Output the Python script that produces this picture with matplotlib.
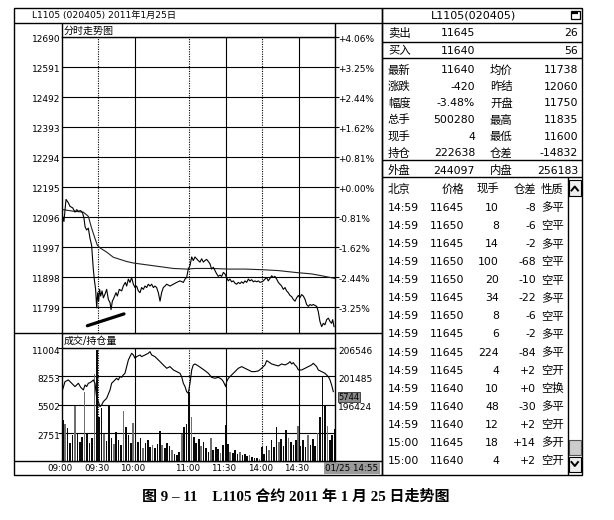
import numpy as np
import matplotlib
matplotlib.use('Agg')
import matplotlib.pyplot as plt
from matplotlib.patches import Rectangle
from matplotlib.transforms import offset_copy

plt.rcParams['font.family'] = ['DejaVu Sans', 'Noto Sans CJK SC']

# ---------------- 数据 ----------------
# 分时价格（横轴为交易分钟，0 = 09:00，225 = 15:00）
price_min = [0.5, 1.6, 3.3, 5.2, 6.6, 8.8, 10.7, 12.1, 13.5, 15.4,
             17.0, 18.1, 19.0, 20.3, 21.7, 23.1, 24.4, 25.8, 26.6, 27.7,
             28.6, 29.4, 30.2, 31.0, 31.9, 33.0, 34.1, 35.4, 36.8, 38.2,
             39.6, 40.4, 41.5, 42.8, 44.5, 45.6, 47.2, 49.2, 50.5, 52.2,
             53.3, 54.7, 56.0, 57.4, 58.8, 60.2, 61.5, 62.9, 64.3, 65.6,
             67.0, 68.4, 69.8, 71.1, 72.5, 73.9, 75.3, 76.6, 78.0, 79.4,
             80.8, 82.1, 83.5, 84.9, 86.3, 89.0, 91.8, 94.5, 97.2, 100.0,
             101.4, 102.7, 104.1, 105.5, 106.9, 108.2, 109.6, 111.0, 112.3, 113.7,
             115.1, 116.5, 117.8, 119.2, 120.6, 122.0, 123.3, 124.7, 126.1, 127.5,
             128.8, 130.2, 131.6, 133.0, 134.3, 135.7, 137.1, 138.4, 139.8, 141.2,
             142.6, 143.9, 145.3, 146.7, 148.1, 149.4, 150.8, 152.2, 153.6, 154.9,
             156.3, 157.7, 159.0, 160.4, 161.8, 163.2, 164.5, 165.9, 167.3, 168.7,
             170.0, 171.4, 172.8, 174.2, 175.5, 176.9, 178.3, 179.6, 181.0, 182.4,
             183.8, 185.1, 186.5, 187.9, 189.3, 190.6, 192.0, 193.4, 194.8, 196.1,
             197.5, 198.9, 200.3, 201.6, 203.0, 204.4, 205.7, 207.1, 208.5, 209.9,
             211.2, 212.6, 214.0, 215.4, 216.7, 218.1, 219.5, 220.9, 222.2, 223.1,
             224.2]
price_val = [12097, 12080, 12153, 12142, 12130, 12125, 12111, 12119, 12114, 12116,
             12108, 12091, 12063, 12052, 12058, 12024, 12002, 11923, 11890, 11856,
             11795, 11845, 11817, 11856, 11834, 11851, 11828, 11840, 11856, 11823,
             11812, 11789, 11817, 11828, 11845, 11834, 11856, 11851, 11867, 11879,
             11867, 11890, 11879, 11895, 11873, 11862, 11867, 11851, 11845, 11862,
             11856, 11867, 11862, 11873, 11867, 11873, 11862, 11867, 11862, 11845,
             11817, 11845, 11862, 11867, 11873, 11867, 11873, 11879, 11884, 11879,
             11890, 11895, 11923, 11935, 11963, 11951, 11963, 11957, 11951, 11946,
             11957, 11946, 11951, 11955, 11948, 11940, 11923, 11929, 11918, 11907,
             11899, 11903, 11899, 11912, 11907, 11895, 11884, 11890, 11881, 11884,
             11876, 11873, 11879, 11875, 11881, 11876, 11884, 11879, 11890, 11884,
             11888, 11881, 11884, 11881, 11884, 11879, 11881, 11884, 11890, 11895,
             11884, 11892, 11901, 11895, 11899, 11890, 11879, 11873, 11867, 11856,
             11862, 11851, 11845, 11836, 11832, 11823, 11817, 11828, 11836, 11828,
             11839, 11834, 11823, 11806, 11800, 11806, 11803, 11806, 11803, 11800,
             11783, 11750, 11733, 11744, 11739, 11756, 11761, 11750, 11744, 11756,
             11733]

# 均价线
avg_min = [1.1, 9.3, 17.6, 21.7, 24.4, 27.2, 29.1, 31.3, 36.8, 42.3, 47.8, 53.3, 58.8, 69.8,
           80.8, 91.8, 102.7, 109.6, 123.3, 137.1, 150.8, 164.5, 178.3, 192.0, 205.7, 214.0, 225.0]
avg_val = [12119, 12114, 12111, 12097, 12058, 12024, 12002, 11993, 11979, 11962, 11955, 11948, 11943, 11937,
           11931, 11925, 11923, 11925, 11925, 11923, 11923, 11921, 11918, 11912, 11907, 11901, 11892]

# 手画的支撑线
mark_min = [20.9, 51.1]
mark_val = [11736, 11775]

# 持仓量
oi_min = [0, 2.5, 5.2, 8.0, 10.7, 12.1, 13.5, 15.4, 17.6, 19.0,
          20.3, 21.7, 23.1, 24.4, 25.8, 27.2, 28.6, 29.9, 31.3, 32.7,
          34.1, 36.8, 39.6, 40.9, 42.3, 45.0, 46.4, 47.8, 49.2, 50.5,
          51.9, 53.3, 54.7, 56.0, 57.4, 58.8, 60.2, 61.5, 64.3, 65.6,
          68.4, 71.1, 72.5, 73.9, 76.6, 79.4, 80.8, 83.5, 86.3, 89.0,
          91.8, 94.5, 97.2, 98.6, 100.0, 101.4, 102.7, 104.1, 105.5, 106.9,
          108.2, 109.6, 112.3, 115.1, 117.8, 120.6, 123.3, 126.1, 128.8, 131.6,
          133.0, 134.9, 135.7, 137.1, 139.8, 142.6, 145.3, 148.1, 150.8, 153.6,
          156.3, 159.0, 161.8, 164.5, 167.3, 168.7, 170.0, 172.8, 175.5, 178.3,
          181.0, 183.8, 186.5, 187.9, 189.3, 190.6, 192.0, 193.4, 194.8, 197.5,
          200.3, 203.0, 205.7, 207.1, 208.5, 209.9, 211.2, 214.0, 216.7, 219.5,
          220.9, 222.2, 223.6]
oi_val = [198746, 200546, 200846, 200246, 199646, 199946, 200246, 199526, 199046, 199946,
          199646, 200246, 200366, 200546, 200846, 200246, 197546, 196946, 196046, 196346,
          196946, 197546, 199046, 200246, 200546, 201146, 200846, 201446, 201326, 201746,
          202046, 203246, 204446, 205046, 205646, 205346, 204746, 205046, 205346, 205046,
          205346, 205646, 205946, 205346, 205046, 204446, 204146, 203546, 202946, 203246,
          202646, 202346, 202046, 201446, 200246, 199646, 198746, 198446, 200246, 202646,
          203546, 203726, 203366, 202946, 202526, 202046, 201326, 201146, 201326, 200966,
          200546, 199646, 200546, 201146, 201746, 202346, 202946, 203246, 202946, 202646,
          202346, 202346, 202466, 202946, 203546, 204326, 204146, 203726, 203546, 203366,
          203726, 203546, 203846, 204146, 203726, 203966, 203546, 203246, 202646, 202646,
          202946, 203246, 203546, 203846, 203546, 203246, 202646, 202346, 202046, 201446,
          200846, 199946, 198746]

# 成交量（每两分钟一根）
vol_val = [4000, 3600, 3200, 1700, 2500, 5400, 2700, 1800, 2300, 6700,
           2600, 1700, 2200, 8500, 10800, 4300, 5200, 2600, 1900, 5400,
           2200, 1600, 2800, 2000, 1500, 4900, 3300, 2500, 1700, 3700,
           3100, 1800, 2200, 1200, 1700, 2000, 1300, 1500, 1200, 1600,
           2900, 1500, 1200, 1700, 1400, 1000, 700, 600, 900, 2600,
           3300, 3600, 6700, 4300, 2300, 1700, 2100, 1400, 1800, 1200,
           900, 2200, 1000, 1300, 1100, 800, 1500, 3450, 1600, 900,
           800, 1000, 700, 900, 600, 700, 500, 600, 400, 300,
           300, 200, 1300, 700, 1400, 1000, 2000, 1300, 3300, 1800,
           2100, 1400, 3000, 2200, 1800, 1500, 2000, 3400, 1400, 2000,
           1300, 2500, 1500, 2100, 1400, 2700, 4300, 8200, 5400, 3400,
           2000, 2500, 3100]
vol_min = list(range(0, 2 * len(vol_val), 2))

price_ticks = [11799, 11898, 11997, 12096, 12195, 12294, 12393, 12492, 12591, 12690]
pct_labels = ['-3.25%', '-2.44%', '-1.62%', '-0.81%', '+0.00%',
              '+0.81%', '+1.62%', '+2.44%', '+3.25%', '+4.06%']
vol_ticks = [2751, 5502, 8253, 11004]
oi_ticks = [196424, 201485, 206546]
time_ticks = [0, 30, 60, 105, 135, 165, 195]
time_labels = ['09:00', '09:30', '10:00', '11:00', '11:30', '14:00', '14:30']
solid_min = [60, 135, 195]
dotted_min = [30, 105, 165]

# 右侧报价
ask = ('卖出', '11645', '26')
bid = ('买入', '11640', '56')
quote_rows = [('最新', '11640', '均价', '11738'),
              ('涨跌', '-420', '昨结', '12060'),
              ('幅度', '-3.48%', '开盘', '11750'),
              ('总手', '500280', '最高', '11835'),
              ('现手', '4', '最低', '11600'),
              ('持仓', '222638', '仓差', '-14832')]
outer = ('外盘', '244097', '内盘', '256183')
trade_time = ['14:59'] * 13 + ['15:00'] * 2
trade_price = ['11645', '11650', '11645', '11650', '11650', '11645', '11650', '11645',
               '11645', '11645', '11640', '11640', '11640', '11645', '11640']
trade_qty = ['10', '8', '14', '100', '20', '34', '8', '6', '224', '4', '10', '48', '12', '18', '4']
trade_oi = ['-8', '-6', '-2', '-68', '-10', '-22', '-6', '-2', '-84', '+2', '+0', '-30', '+2', '+14', '+2']
trade_type = ['多平', '空平', '多平', '空平', '空平', '多平', '空平', '多平', '多平',
              '空开', '空换', '多平', '空开', '多开', '空开']

# ---------------- 画布 ----------------
W, H = 614, 520
fig = plt.figure(figsize=(W / 100, H / 100), dpi=100)


def box(x0, y0, x1, y1):
    # 像素 -> figure 坐标
    return [x0 / W, 1 - y1 / H, (x1 - x0) / W, (y1 - y0) / H]


bg = fig.add_axes([0, 0, 1, 1])
bg.set_xlim(0, W)
bg.set_ylim(H, 0)
bg.axis('off')


def seg(xs, ys, lw=1.0, color='k'):
    bg.plot(xs, ys, color=color, lw=lw, solid_capstyle='butt')


# 左侧窗口边框
bg.add_patch(Rectangle((14, 8), 368, 467, fill=False, ec='k', lw=1.0))
seg([14, 582], [23, 23])
seg([62, 62], [23, 37]); seg([335, 335], [23, 37])
seg([14, 382], [333.3, 333.3])
seg([62, 62], [333, 348.3]); seg([335, 335], [333, 348.3])
seg([14, 382], [460.7, 460.7])

bg.text(32, 15.5, 'L1105 (020405) 2011年1月25日', fontsize=6.6, va='center', ha='left')
bg.text(64, 30.5, '分时走势图', fontsize=7.2, va='center', ha='left')
bg.text(64, 341, '成交/持仓量', fontsize=7.2, va='center', ha='left')

# 价格分时图
ax_p = fig.add_axes(box(62, 36.7, 335, 333.3))
ax_p.set_xlim(0, 225)
ax_p.set_ylim(11711, 12690)
ax_p.set_yticks(price_ticks)
ax_p.set_xticks([])
ax_p.grid(axis='y', color='k', lw=0.8)
ax_p.tick_params(axis='y', left=False, right=True, length=3, width=0.8, labelleft=False)
for m in solid_min:
    ax_p.axvline(m, color='k', lw=0.8)
for m in dotted_min:
    ax_p.axvline(m, color='k', lw=0.8, ls=(0, (1, 1.2)))
ax_p.plot(avg_min, avg_val, color='#222222', lw=0.8)
ax_p.plot(price_min, price_val, color='k', lw=0.8)
ax_p.plot(mark_min, mark_val, color='k', lw=2.3, solid_capstyle='round')
for s in ax_p.spines.values():
    s.set_linewidth(1.0)

tl = offset_copy(ax_p.get_yaxis_transform(), fig=fig, x=-1.5, y=-2.5, units='dots')
tr = offset_copy(ax_p.get_yaxis_transform(), fig=fig, x=3.5, y=-2.5, units='dots')
for t, s in zip(price_ticks, pct_labels):
    ax_p.text(0, t, str(t), transform=tl, ha='right', va='center', fontsize=6.5, clip_on=False)
    ax_p.text(1, t, s, transform=tr, ha='left', va='center', fontsize=6.5, clip_on=False)

# 成交量 / 持仓量
ax_v = fig.add_axes(box(62, 348.3, 335, 460.7))
ax_v.set_xlim(0, 225)
ax_v.set_ylim(0, 11004)
ax_v.set_yticks(vol_ticks)
ax_v.set_xticks([])
ax_v.grid(axis='y', color='k', lw=0.8)
ax_v.tick_params(axis='y', left=False, right=True, length=3, width=0.8, labelleft=False)
for m in solid_min:
    ax_v.axvline(m, color='k', lw=0.8)
for m in dotted_min:
    ax_v.axvline(m, color='k', lw=0.8, ls=(0, (1, 1.2)))
bar_colors = ['#6e6e6e' if i % 4 == 1 else '#0a0a0a' for i in range(len(vol_val))]
ax_v.bar(vol_min, vol_val, width=1.35, color=bar_colors, align='edge', zorder=2)
for s in ax_v.spines.values():
    s.set_linewidth(1.0)

ax_oi = ax_v.twinx()
ax_oi.set_ylim(186302, 206546)
ax_oi.set_yticks([])
ax_oi.plot(oi_min, oi_val, color='k', lw=0.8)
for s in ax_oi.spines.values():
    s.set_visible(False)

tl = offset_copy(ax_v.get_yaxis_transform(), fig=fig, x=-1.5, y=-3.5, units='dots')
for t in vol_ticks:
    ax_v.text(0, t, str(t), transform=tl, ha='right', va='center', fontsize=6.5, clip_on=False)
tr = offset_copy(ax_oi.get_yaxis_transform(), fig=fig, x=3, y=-3.5, units='dots')
for t in oi_ticks:
    ax_oi.text(1, t, str(t), transform=tr, ha='left', va='center', fontsize=6.5, clip_on=False)

tx = offset_copy(ax_v.get_xaxis_transform(), fig=fig, y=-7.5, units='dots')
for m, s in zip(time_ticks, time_labels):
    ax_v.text(m - 1.5, 0, s, transform=tx, ha='center', va='center', fontsize=6.3, clip_on=False)

bg.text(338.5, 397, '5744', fontsize=6, ha='left', va='center',
        bbox=dict(boxstyle='square,pad=0.1', fc='#8a8a8a', ec='#333333', lw=0.6))
bg.text(352, 468, '01/25 14:55', fontsize=6.3, ha='center', va='center',
        bbox=dict(boxstyle='square,pad=0.15', fc='#9a9a9a', ec='none'))

# ---------------- 右侧报价面板 ----------------
bg.add_patch(Rectangle((382, 8), 200, 467, fill=False, ec='k', lw=1.0))
for y in [41.7, 58.3, 160, 176.7]:
    seg([382, 582], [y, y])
bg.text(474, 15.5, 'L1105(020405)', fontsize=8, ha='center', va='center')
bg.add_patch(Rectangle((570.5, 10.5), 9, 8, fill=False, ec='k', lw=0.9))
seg([572, 578], [12.5, 12.5], lw=1.6)

fs_cn, fs_num = 8.2, 7.8
lx, v1x, l2x, v2x = 388, 475, 490, 578

for (lab, v1, v2), y in zip([ask, bid], [33.3, 51]):
    bg.text(lx, y, lab, fontsize=fs_cn, va='center', ha='left')
    bg.text(v1x, y, v1, fontsize=fs_num, va='center', ha='right')
    bg.text(v2x, y, v2, fontsize=fs_num, va='center', ha='right')

for i, (a, b, c, d) in enumerate(quote_rows + [outer]):
    y = 70 + 16.7 * i if i < 6 else 170.5
    bg.text(lx, y, a, fontsize=fs_cn, va='center', ha='left')
    bg.text(v1x, y, b, fontsize=fs_num, va='center', ha='right')
    bg.text(l2x, y, c, fontsize=fs_cn, va='center', ha='left')
    bg.text(v2x, y, d, fontsize=fs_num, va='center', ha='right')

# 成交明细
col_x = [388, 464, 499, 536, 541]
hy = 189.5
bg.text(col_x[0], hy, '北京', fontsize=fs_cn, va='center', ha='left')
bg.text(col_x[1], hy, '价格', fontsize=fs_cn, va='center', ha='right')
bg.text(col_x[2], hy, '现手', fontsize=fs_cn, va='center', ha='right')
bg.text(col_x[3], hy, '仓差', fontsize=fs_cn, va='center', ha='right')
bg.text(col_x[4], hy, '性质', fontsize=fs_cn, va='center', ha='left')
for i in range(len(trade_time)):
    y = 208 + 18.07 * i
    bg.text(col_x[0], y, trade_time[i], fontsize=fs_num, va='center', ha='left')
    bg.text(col_x[1], y, trade_price[i], fontsize=fs_num, va='center', ha='right')
    bg.text(col_x[2], y, trade_qty[i], fontsize=fs_num, va='center', ha='right')
    bg.text(col_x[3], y, trade_oi[i], fontsize=fs_num, va='center', ha='right')
    bg.text(col_x[4], y, trade_type[i], fontsize=fs_cn, va='center', ha='left')

# 滚动条
seg([567.5, 567.5], [176.7, 475])
bg.add_patch(Rectangle((568.5, 180), 12.5, 16, fc='#eeeeee', ec='k', lw=0.8))
bg.add_patch(Rectangle((568.5, 440), 12.5, 15, fc='#cccccc', ec='#555555', lw=0.8))
bg.add_patch(Rectangle((568.5, 456.5), 12.5, 15.5, fc='#eeeeee', ec='k', lw=0.8))
bg.plot([571.5, 574.8, 578], [190.5, 186.5, 190.5], color='k', lw=1.4)
bg.plot([571.5, 574.8, 578], [462, 466, 462], color='k', lw=1.4)

# 图题
bg.text(296, 497, '图 9 – 11　L1105 合约 2011 年 1 月 25 日走势图', fontsize=10.8,
        fontweight='bold', ha='center', va='center',
        family=['Liberation Serif', 'Noto Sans CJK SC'])

fig.savefig('out.png', dpi=100)
